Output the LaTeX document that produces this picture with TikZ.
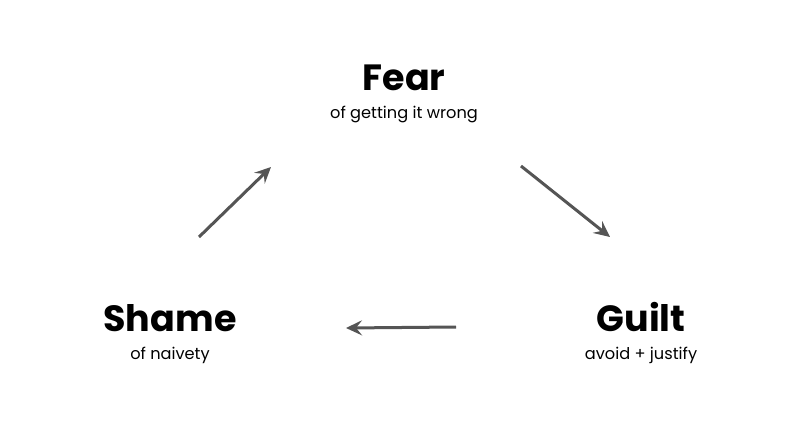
\documentclass[tikz,border=0pt]{standalone}
\usepackage{fontspec}
\setmainfont{Poppins}
\usetikzlibrary{arrows.meta}
\definecolor{arrowgray}{HTML}{555555}
\begin{document}
\begin{tikzpicture}[x=1pt,y=-1pt,
  title/.style={font=\fontsize{36.5}{40}\selectfont\bfseries, text=black, inner sep=0pt, anchor=base},
  sub/.style={font=\fontsize{16.2}{18}\selectfont, text=black, inner sep=0pt, anchor=base},
  cyc/.style={draw=arrowgray, line width=3pt, -{Stealth[length=16pt, width=15pt, inset=6pt]}}]
\useasboundingbox[fill=white] (0,0) rectangle (810,434);
\node[title] (fear) at (404,90) {Fear};
\node[sub] (fearsub) at (404,118) {of getting it wrong};
\node[title] (shame) at (170,331) {Shame};
\node[sub] (shamesub) at (170,359) {of naivety};
\node[title] (guilt) at (641,331) {Guilt};
\node[sub] (guiltsub) at (641,359) {avoid + justify};
\coordinate (a1s) at (199,237);
\coordinate (a1e) at (271,167);
\coordinate (a2s) at (521,166);
\coordinate (a2e) at (610,237);
\coordinate (a3s) at (456,327);
\coordinate (a3e) at (346,328);
\draw[cyc] (a1s) -- (a1e);
\draw[cyc] (a2s) -- (a2e);
\draw[cyc] (a3s) -- (a3e);
\end{tikzpicture}
\end{document}
